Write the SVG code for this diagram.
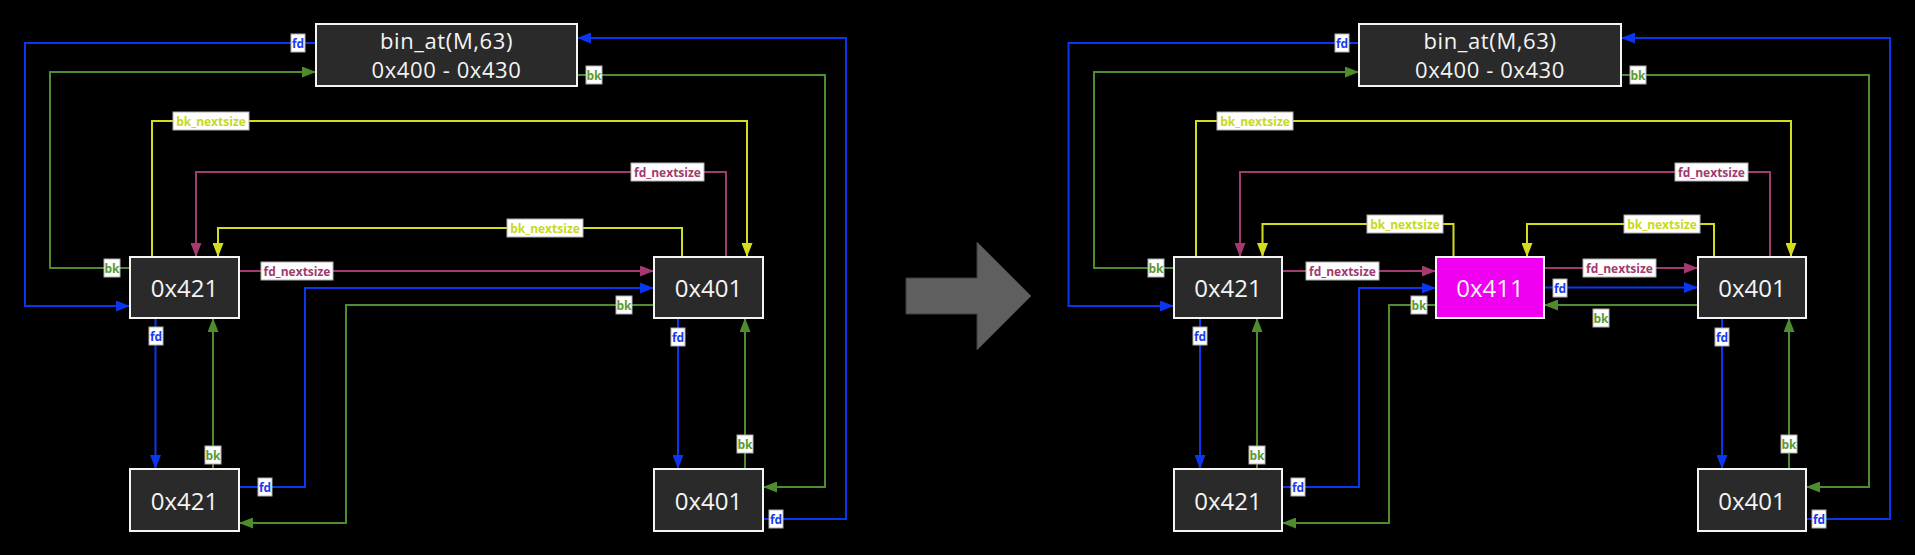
<svg xmlns="http://www.w3.org/2000/svg" width="1915" height="555" viewBox="0 0 1915 555">
<style>
.node rect{fill:#2a2a2a;stroke:#f4f4f4;stroke-width:2}
.node text{fill:#f4f4f4;font-family:"Open Sans","Noto Sans",sans-serif;font-size:24px;text-anchor:middle}
.node text.bt{font-size:22px;letter-spacing:0.6px}
#n411R rect{fill:#f000f0}
.e{fill:none;stroke-width:2}
.b{stroke:#0a36ee}
.g{stroke:#4e8c2e}
.m{stroke:#a33a6e}
.y{stroke:#d4dc1e}
.lb rect{fill:#ffffff;stroke:#b0b0b0;stroke-width:1}
.lb text{font-family:"Open Sans","Noto Sans",sans-serif;font-size:12px;font-weight:bold;text-anchor:middle;dominant-baseline:central}
.tb{fill:#1a3cf0}.tg{fill:#5a9a30}.tm{fill:#a33a6e}.ty{fill:#c8d820}
</style>
<defs>
<marker id="ab" markerUnits="userSpaceOnUse" markerWidth="14" markerHeight="11" refX="14" refY="5.5" orient="auto"><path d="M0,0L14,5.5L0,11z" fill="#0a36ee"/></marker>
<marker id="ag" markerUnits="userSpaceOnUse" markerWidth="14" markerHeight="11" refX="14" refY="5.5" orient="auto"><path d="M0,0L14,5.5L0,11z" fill="#4e8c2e"/></marker>
<marker id="am" markerUnits="userSpaceOnUse" markerWidth="14" markerHeight="11" refX="14" refY="5.5" orient="auto"><path d="M0,0L14,5.5L0,11z" fill="#a33a6e"/></marker>
<marker id="ay" markerUnits="userSpaceOnUse" markerWidth="14" markerHeight="11" refX="14" refY="5.5" orient="auto"><path d="M0,0L14,5.5L0,11z" fill="#d4dc1e"/></marker>
</defs>
<rect width="1915" height="555" fill="#000"/>

<g id="connectors">
<!-- left panel -->
<path class="e b" d="M316,43H25V306H130" marker-end="url(#ab)"/>
<path class="e b" d="M763,519H846V38H577" marker-end="url(#ab)"/>
<path class="e g" d="M130,268H50V72H316" marker-end="url(#ag)"/>
<path class="e g" d="M577,75H825V487H763" marker-end="url(#ag)"/>
<path class="e y" d="M152,257V121H747V257" marker-end="url(#ay)"/>
<path class="e m" d="M726,257V172H196V257" marker-end="url(#am)"/>
<path class="e y" d="M682,257V228H218V257" marker-end="url(#ay)"/>
<path class="e m" d="M239,271H654" marker-end="url(#am)"/>
<path class="e b" d="M239,487H305V288H654" marker-end="url(#ab)"/>
<path class="e g" d="M654,305H346V523H239" marker-end="url(#ag)"/>
<path class="e b" d="M155.5,318V469" marker-end="url(#ab)"/>
<path class="e g" d="M213,469V318" marker-end="url(#ag)"/>
<path class="e b" d="M678,318V469" marker-end="url(#ab)"/>
<path class="e g" d="M745,469V318" marker-end="url(#ag)"/>
<!-- right panel -->
<path class="e b" d="M1359,43H1068.5V306H1174" marker-end="url(#ab)"/>
<path class="e b" d="M1806,519H1890V38H1621" marker-end="url(#ab)"/>
<path class="e g" d="M1174,268H1094V72H1359" marker-end="url(#ag)"/>
<path class="e g" d="M1621,75H1869V487H1806" marker-end="url(#ag)"/>
<path class="e y" d="M1196,257V121H1791V257" marker-end="url(#ay)"/>
<path class="e m" d="M1770,257V172H1240V257" marker-end="url(#am)"/>
<path class="e y" d="M1453.5,257V224H1262.5V257" marker-end="url(#ay)"/>
<path class="e y" d="M1714,257V224H1527V257" marker-end="url(#ay)"/>
<path class="e m" d="M1282,271H1436" marker-end="url(#am)"/>
<path class="e m" d="M1544,268H1698" marker-end="url(#am)"/>
<path class="e b" d="M1544,287.5H1698" marker-end="url(#ab)"/>
<path class="e b" d="M1282,487H1359V288H1436" marker-end="url(#ab)"/>
<path class="e g" d="M1698,305H1544" marker-end="url(#ag)"/>
<path class="e g" d="M1436,305H1389V523H1282" marker-end="url(#ag)"/>
<path class="e b" d="M1200,318V469" marker-end="url(#ab)"/>
<path class="e g" d="M1257,469V318" marker-end="url(#ag)"/>
<path class="e b" d="M1722,318V469" marker-end="url(#ab)"/>
<path class="e g" d="M1789,469V318" marker-end="url(#ag)"/>

<!-- labels left -->
<g class="lb">
<rect x="291" y="34" width="14" height="18"/><text class="tb" x="298" y="43">fd</text>
<rect x="769" y="510" width="14" height="18"/><text class="tb" x="776" y="519">fd</text>
<rect x="104" y="259" width="16" height="18"/><text class="tg" x="112" y="268">bk</text>
<rect x="586" y="66" width="16" height="18"/><text class="tg" x="594" y="75">bk</text>
<rect x="173" y="112" width="76" height="18"/><text class="ty" x="211" y="121">bk_nextsize</text>
<rect x="631" y="163" width="73" height="18"/><text class="tm" x="667.5" y="172">fd_nextsize</text>
<rect x="507" y="219" width="76" height="18"/><text class="ty" x="545" y="228">bk_nextsize</text>
<rect x="261" y="262" width="72" height="18"/><text class="tm" x="297" y="271">fd_nextsize</text>
<rect x="258" y="478" width="14" height="18"/><text class="tb" x="265" y="487">fd</text>
<rect x="616" y="296" width="16" height="18"/><text class="tg" x="624" y="305">bk</text>
<rect x="149" y="327" width="14" height="18"/><text class="tb" x="156" y="336">fd</text>
<rect x="205" y="446" width="16" height="18"/><text class="tg" x="213" y="455">bk</text>
<rect x="671" y="328" width="14" height="18"/><text class="tb" x="678" y="337">fd</text>
<rect x="737" y="435" width="16" height="18"/><text class="tg" x="745" y="444">bk</text>
</g>
<!-- labels right -->
<g class="lb">
<rect x="1335" y="34" width="14" height="18"/><text class="tb" x="1342" y="43">fd</text>
<rect x="1812" y="510" width="14" height="18"/><text class="tb" x="1819" y="519">fd</text>
<rect x="1148" y="259" width="16" height="18"/><text class="tg" x="1156" y="268">bk</text>
<rect x="1630" y="66" width="16" height="18"/><text class="tg" x="1638" y="75">bk</text>
<rect x="1217" y="112" width="76" height="18"/><text class="ty" x="1255" y="121">bk_nextsize</text>
<rect x="1675" y="163" width="73" height="18"/><text class="tm" x="1711.5" y="172">fd_nextsize</text>
<rect x="1367" y="215" width="76" height="18"/><text class="ty" x="1405" y="224">bk_nextsize</text>
<rect x="1624" y="215" width="76" height="18"/><text class="ty" x="1662" y="224">bk_nextsize</text>
<rect x="1306" y="262" width="73" height="18"/><text class="tm" x="1342.5" y="271">fd_nextsize</text>
<rect x="1583" y="259" width="73" height="18"/><text class="tm" x="1619.5" y="268">fd_nextsize</text>
<rect x="1553" y="279" width="14" height="18"/><text class="tb" x="1560" y="288">fd</text>
<rect x="1291" y="478" width="14" height="18"/><text class="tb" x="1298" y="487">fd</text>
<rect x="1593" y="309" width="16" height="18"/><text class="tg" x="1601" y="318">bk</text>
<rect x="1411" y="296" width="16" height="18"/><text class="tg" x="1419" y="305">bk</text>
<rect x="1193" y="327" width="14" height="18"/><text class="tb" x="1200" y="336">fd</text>
<rect x="1249" y="446" width="16" height="18"/><text class="tg" x="1257" y="455">bk</text>
<rect x="1715" y="328" width="14" height="18"/><text class="tb" x="1722" y="337">fd</text>
<rect x="1781" y="435" width="16" height="18"/><text class="tg" x="1789" y="444">bk</text>
</g>
</g>

<g id="binL" class="node"><rect x="316" y="24" width="261" height="62"/><text class="bt" x="446.5" y="49">bin_at(M,63)</text><text class="bt" x="446.5" y="78">0x400 - 0x430</text></g>
<g id="n421L" class="node"><rect x="130" y="257" width="109" height="61"/><text x="184.5" y="297">0x421</text></g>
<g id="n401L" class="node"><rect x="654" y="257" width="109" height="61"/><text x="708.5" y="297">0x401</text></g>
<g id="n421bL" class="node"><rect x="130" y="469" width="109" height="62"/><text x="184.5" y="510">0x421</text></g>
<g id="n401bL" class="node"><rect x="654" y="469" width="109" height="62"/><text x="708.5" y="510">0x401</text></g>

<g id="binR" class="node"><rect x="1359" y="24" width="262" height="62"/><text class="bt" x="1490" y="49">bin_at(M,63)</text><text class="bt" x="1490" y="78">0x400 - 0x430</text></g>
<g id="n421R" class="node"><rect x="1174" y="257" width="108" height="61"/><text x="1228" y="297">0x421</text></g>
<g id="n411R" class="node"><rect x="1436" y="257" width="108" height="61"/><text x="1490" y="297">0x411</text></g>
<g id="n401R" class="node"><rect x="1698" y="257" width="108" height="61"/><text x="1752" y="297">0x401</text></g>
<g id="n421bR" class="node"><rect x="1174" y="469" width="108" height="62"/><text x="1228" y="510">0x421</text></g>
<g id="n401bR" class="node"><rect x="1698" y="469" width="108" height="62"/><text x="1752" y="510">0x401</text></g>

<polygon id="transition" points="906,278 977,278 977,242 1031,296 977,350 977,314 906,314" fill="#5f5f5f" stroke="#3a4046" stroke-width="1"/>
</svg>
